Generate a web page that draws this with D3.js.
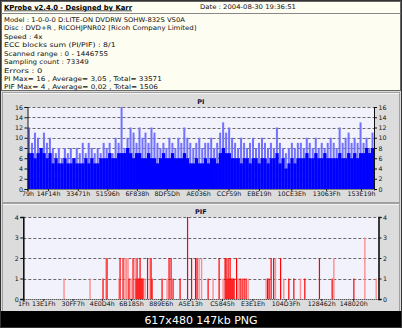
<!DOCTYPE html>
<html><head><meta charset="utf-8">
<script src="https://cdn.jsdelivr.net/npm/d3@7"></script>
<style>
html,body{margin:0;padding:0;background:#000;}
svg{display:block;}
text{font-family:"DejaVu Sans",Verdana,sans-serif;}
</style></head>
<body>
<svg id="c" width="402" height="328"></svg>
<script>
// ---------- data ----------
const headerTitle = "KProbe v2.4.0 - Designed by Karr";
const headerDate = "Date : 2004-08-30 19:36:51";
const headerLines = [
  "Model : 1-0-0-0 D:LITE-ON DVDRW SOHW-832S  VS0A",
  "Disc : DVD+R , RICOHJPNR02 [Ricoh Company Limited]",
  "Speed : 4x",
  "ECC blocks sum (PI/PIF) : 8/1",
  "Scanned range : 0 - 1446755",
  "Sampling count : 73349",
  "Errors : 0",
  "PI Max= 16 , Average= 3,05 , Total= 33571",
  "PIF Max= 4 , Average= 0,02 , Total= 1506"
];
const lbaMax = 1446755;
const piYTicks = [0,2,4,6,8,10,12,14,16];
const pifYTicks = [0,1,2,3,4];
const piXTicks = ["79h","14F14h","33471h","51596h","6F838h","8DF5Dh","AE036h","CCF59h","EBE19h","10CE3Eh","13063Fh","153E19h"];
const pifXTicks = ["1Fh","13E1Fh","30FF7h","4E0D4h","6B185h","889E6h","A5E13h","C5845h","E3E1Eh","104D3Fh","128462h","148020h"];

// PI per sampling bin: peak (light spikes) and base (solid)
const piPeak = [12,9,11,10,8,11,9,10, 8,7,8,6,8,7,8,6,8,7, 9,7,9,8,7,8,7, 9,8,9,7,10,9,16,
  8,10,12,11,9,12, 10,11,9,12,11,9,8, 9,8,10,9,8, 10,9,12,10,9, 8,9,10,8,9, 9,10,8,9,11,
  13,11,12,10, 9,8,10,9,8, 9,10,8,9,10, 9,8,9,8,12, 9,8,7,8,9,8,9, 9,8,10,9,8,
  10,8,9,8,9, 10,9,8,12,9, 10,11,9,10,9, 13,9,10,8,11];
const piBase = [7,7,6,7,8,7,6,7, 5,6,5,5,6,5,5,6,5,5, 5,6,5,6,5,5,6, 6,6,7,6,6,7,7,
  7,8,7,6,7,7, 6,6,7,6,6,5,6, 7,6,6,7,6, 6,6,7,6,5, 5,6,5,5,6, 5,6,6,5,7,
  8,7,7,6, 6,6,5,6,6, 5,6,6,5,6, 6,5,6,6,7, 5,6,4,5,6,5,6, 6,6,7,6,6,
  7,6,6,7,6, 6,6,6,7,6, 6,7,6,7,6, 7,7,8,7,8];

// PIF: dense (solid red) samples and sparse (light red) samples
const pifRedPos = [324800,341100,394100,406300,430700,447000,459300,463300,467400,471500,475600,479600,483700,487800,
  506100,520400,524500,565200,593700,601900,610000,638600,669100,685400,701700,707800,752700,797500,
  821900,826000,830100,834200,838200,842300,846400,850500,854500,858600,868800,883100,891200,899400,907500,
  995100,1001200,1009400,1019600,1048100,1081500,1101900,1146700,1206200,1258000,1346400];
const pifRedVal = [1,2,2,2,1,2,1,2,1,1,2,1,1,1,
  2,2,1,1,2,2,1,1,4,2,2,2,1,2,
  2,2,1,2,1,2,1,1,1,1,2,1,1,1,1,
  1,1,2,2,2,1,1,1,2,1,1];
const pifLightPos = [165900,271800,337000,390000,414400,420500,426700,438900,455200,495900,516300,585600,
  716000,726200,773000,813800,874900,915700,989000,1026900,1061100,1128800,1264900,1391200,1437300];
const pifLightVal = [1,1,2,1,2,2,2,1,2,1,2,1, 2,2,1,1,1,1,1,2,1,1,2,3,1];

// ---------- drawing ----------
const svg = d3.select("#c");
const W = 402, H = 328;

svg.append("rect").attr("x",0).attr("y",0).attr("width",W).attr("height",H).attr("fill","#dadada");

// header
svg.append("rect").attr("x",1.5).attr("y",1.5).attr("width",399).attr("height",89)
  .attr("fill","#fdfdf1").attr("stroke","#666").attr("stroke-width",1);
svg.append("line").attr("x1",1.5).attr("x2",400.5).attr("y1",13.5).attr("y2",13.5).attr("stroke","#888");
svg.append("text").attr("x",4).attr("y",9.5).attr("font-size",7).attr("font-weight","bold")
  .attr("text-decoration","underline").attr("textLength",128).attr("lengthAdjust","spacingAndGlyphs")
  .text(headerTitle);
svg.append("text").attr("x",200).attr("y",9).attr("font-size",6.4).attr("fill","#111")
  .attr("textLength",96).attr("lengthAdjust","spacingAndGlyphs").text(headerDate);
headerLines.forEach((t,i)=>{
  svg.append("text").attr("x",4).attr("y",21.8 + i*8.45).attr("font-size",6.4).attr("fill","#111")
    .attr("textLength",t.length*3.85).attr("lengthAdjust","spacingAndGlyphs").text(t);
});

// panels
function panel(y,h){
  svg.append("rect").attr("x",2.5).attr("y",y+0.5).attr("width",397).attr("height",h)
    .attr("fill","#dcdcdc").attr("stroke","#a0a0a0");
  svg.append("line").attr("x1",3).attr("x2",399).attr("y1",y+1.5).attr("y2",y+1.5).attr("stroke","#f4f4f4");
}
panel(92,110);
panel(203,108);

function chart(opts){
  const {x0,x1,y0,y1,ymax,yTicks,title,titleY} = opts;
  const x = d3.scaleLinear().domain([0,lbaMax]).range([x0,x1]);
  const y = d3.scaleLinear().domain([0,ymax]).range([y1,y0]);
  const g = svg.append("g");
  g.append("rect").attr("x",x0).attr("y",y0).attr("width",x1-x0).attr("height",y1-y0).attr("fill","#f2f2fc");
  g.selectAll(".grid").data(yTicks.filter(d=>d>0)).join("line")
    .attr("x1",x0).attr("x2",x1).attr("y1",d=>Math.round(y(d))+0.5).attr("y2",d=>Math.round(y(d))+0.5)
    .attr("stroke","#444").attr("stroke-dasharray","3,2").attr("stroke-width",0.8);
  svg.append("text").attr("x",(x0+x1)/2).attr("y",titleY).attr("text-anchor","middle")
    .attr("font-size",6.5).attr("font-weight","bold").attr("fill","#101040").text(title);
  return {x,y,g};
}

function decorate(c,opts){
  const {x0,x1,y0,y1,yTicks,xTicks,solidAxis,labY} = opts;
  const {x,y,g} = c;
  const la = d3.axisLeft(y).tickValues(yTicks).tickSize(3).tickFormat(d3.format("d"));
  const ra = d3.axisRight(y).tickValues(yTicks).tickSize(3).tickFormat(d3.format("d"));
  const gl = g.append("g").attr("transform",`translate(${x0},0)`).call(la);
  const gr = g.append("g").attr("transform",`translate(${x1},0)`).call(ra);
  [gl,gr].forEach(a=>{
    a.select(".domain").attr("stroke","#111").attr("stroke-width",solidAxis?1.6:1);
    a.selectAll(".tick line").attr("stroke","#111");
    a.selectAll("text").attr("font-size",6.3).attr("font-family","DejaVu Sans, Verdana, sans-serif").attr("fill","#111");
  });
  gl.selectAll("text").attr("x",-4.5);
  gr.selectAll("text").attr("x",4.5);
  const vals = xTicks.map(s=>parseInt(s.slice(0,-1),16));
  const ba = d3.axisBottom(x).tickValues(vals).tickSize(2).tickFormat((d,i)=>xTicks[i]);
  const gb = g.append("g").attr("transform",`translate(0,${y1})`).call(ba);
  gb.select(".domain").attr("stroke","#222").attr("stroke-dasharray","1,1");
  gb.selectAll(".tick line").attr("stroke","#222");
  gb.selectAll("text").attr("y",labY-y1-3).attr("dy","0.35em").attr("font-size",6.3)
    .attr("font-family","DejaVu Sans, Verdana, sans-serif").attr("fill","#111");
}

// PI chart
const piOpts = {x0:27.5,x1:374,y0:107,y1:189,ymax:16,yTicks:piYTicks,xTicks:piXTicks,title:"PI",titleY:103.5,solidAxis:false,labY:196.5};
const pi = chart(piOpts);
const n = piPeak.length;
const step = lbaMax/n;
const bw = pi.x(step)-pi.x(0);
pi.g.selectAll(".pk").data(piPeak).join("rect")
  .attr("x",(d,i)=>pi.x((i+0.5)*step)-1).attr("width",2)
  .attr("y",d=>pi.y(d)).attr("height",d=>pi.y(0)-pi.y(d)).attr("fill","#7272ff");
pi.g.selectAll(".bs").data(piBase).join("rect")
  .attr("x",(d,i)=>pi.x(i*step)).attr("width",bw+0.3)
  .attr("y",d=>pi.y(d)).attr("height",d=>pi.y(0)-pi.y(d)).attr("fill","#0000ff");
decorate(pi,piOpts);

// PIF chart
const pifOpts = {x0:23.3,x1:378.5,y0:217,y1:299,ymax:4,yTicks:pifYTicks,xTicks:pifXTicks,title:"PIF",titleY:213.5,solidAxis:true,labY:306.5};
const pif = chart(pifOpts);
pif.g.selectAll(".lt").data(pifLightPos).join("rect")
  .attr("x",d=>pif.x(d)-0.7).attr("width",1.4)
  .attr("y",(d,i)=>pif.y(pifLightVal[i])).attr("height",(d,i)=>pif.y(0)-pif.y(pifLightVal[i]))
  .attr("fill","#ff8c8c");
pif.g.selectAll(".rd").data(pifRedPos).join("rect")
  .attr("x",d=>pif.x(d)-0.6).attr("width",1.2)
  .attr("y",(d,i)=>pif.y(pifRedVal[i])).attr("height",(d,i)=>pif.y(0)-pif.y(pifRedVal[i]))
  .attr("fill","#ff0000");
decorate(pif,pifOpts);

// bottom caption bar
svg.append("rect").attr("x",0).attr("y",311).attr("width",W).attr("height",17).attr("fill","#000");
svg.append("text").attr("x",W/2).attr("y",323.5).attr("text-anchor","middle")
  .attr("font-family","Liberation Sans, Arial, sans-serif").attr("font-size",11).attr("fill","#fff")
  .text("617x480 147kb PNG");
svg.append("rect").attr("x",0.5).attr("y",0.5).attr("width",W-1).attr("height",H-1)
  .attr("fill","none").attr("stroke","#333");
</script>
</body></html>
